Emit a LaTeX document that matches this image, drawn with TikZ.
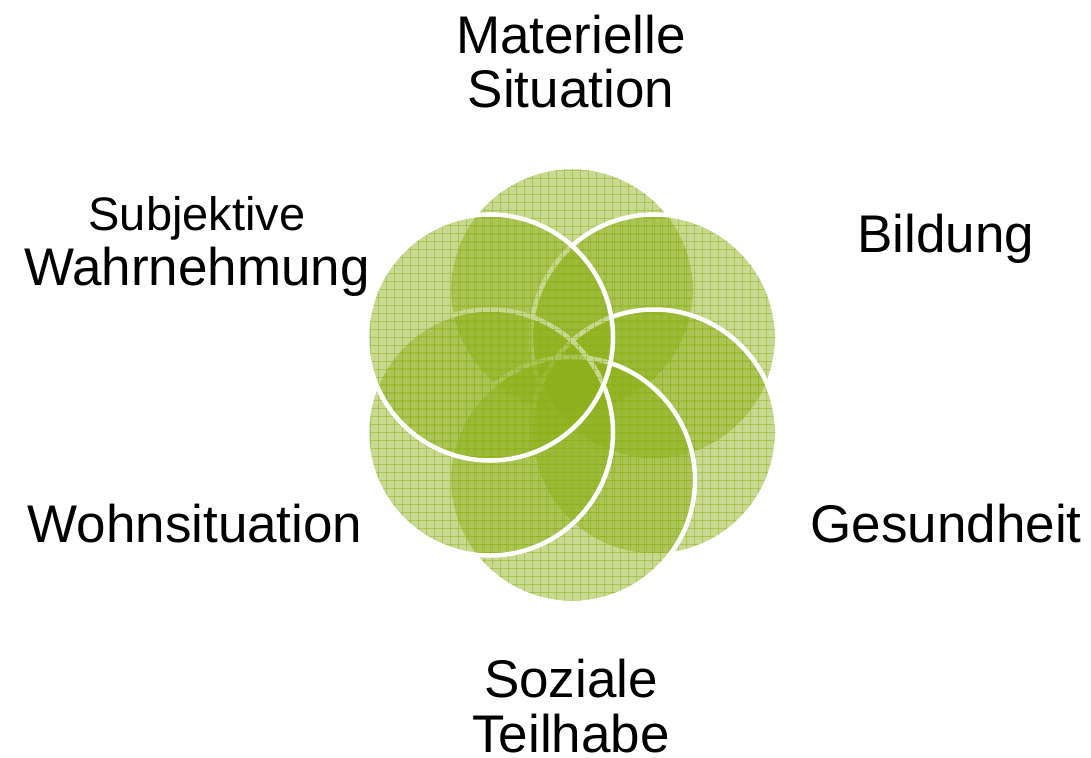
\documentclass[tikz,border=0pt]{standalone}
\usepackage{fontspec}
\setmainfont{Liberation Sans}
\definecolor{leaf}{RGB}{140,176,26}
\begin{document}
\begin{tikzpicture}[x=1pt,y=-1pt,
  petalfill/.style={fill=leaf,fill opacity=0.48},
  petalhatch/.style={draw=leaf,draw opacity=0.5,line width=0.9pt},
  petalrim/.style={draw=white,line width=4.5pt},
  tagtext/.style={anchor=base,inner sep=0pt,align=center,
    font=\fontsize{53}{54.5}\selectfont}]
\useasboundingbox (0,0) rectangle (1091,757);
% six overlapping petals, each drawn over the one before
\foreach \name/\cx/\cy in {top/572/290, ur/654/337.5, lr/654/432.5,
                           bot/572/480, ll/490/432.5, ul/490/337.5} {
  \coordinate (\name) at (\cx,\cy);
  \fill[petalfill] (\name) circle[radius=123];
  \begin{scope}
    \clip (\name) circle[radius=123];
    \begin{scope}[shift={(\name)}]
      \foreach \k in {-120,-112,...,120} {
        \draw[petalhatch] (\k,-124) -- (\k,124);
        \draw[petalhatch] (-124,\k) -- (124,\k);
      }
    \end{scope}
  \end{scope}
  \draw[petalrim] (\name) circle[radius=123];
}
% captions (base anchor sits on the last line)
\node[tagtext] (mat) at (571,108) {Materielle\\Situation};
\node[tagtext] (bil) at (946,252) {Bildung};
\node[tagtext] (ges) at (946,542) {Gesundheit};
\node[tagtext] (soz) at (571,752) {Soziale\\Teilhabe};
\node[tagtext] (woh) at (195,542) {Wohnsituation};
\node[tagtext] (sub) at (197,285) {{\fontsize{47}{54}\selectfont Subjektive}\\Wahrnehmung};
\end{tikzpicture}
\end{document}
